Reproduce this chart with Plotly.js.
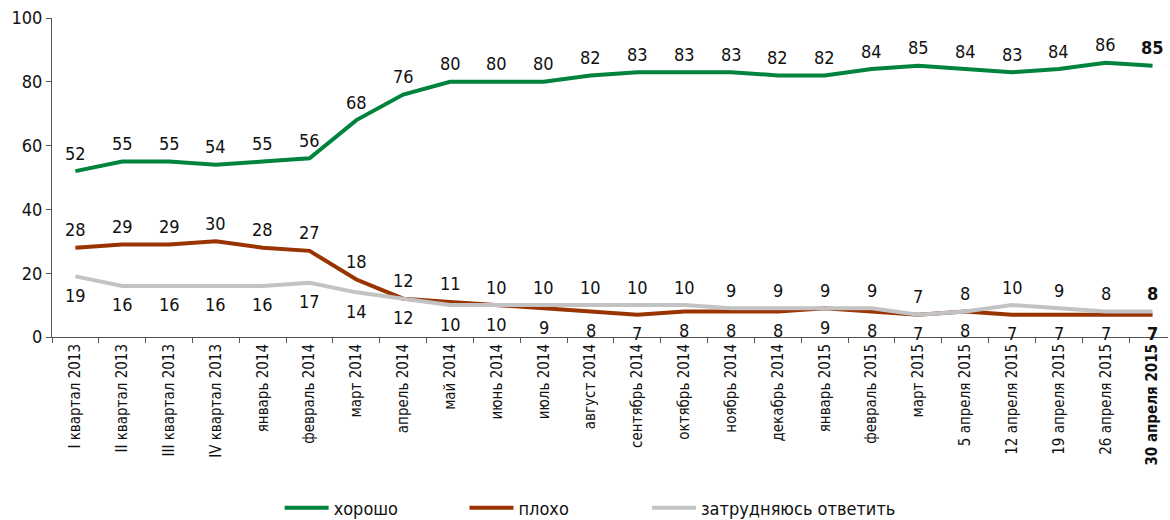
<!DOCTYPE html>
<html><head><meta charset="utf-8">
<script src="https://cdn.plot.ly/plotly-3.0.1.min.js"></script>
<style>html,body{margin:0;padding:0;background:#fff}#chart{width:1170px;height:520px}</style>
</head><body><div id="chart"></div>
<script>
const categories = ["I квартал 2013","II квартал 2013","III квартал 2013","IV квартал 2013","январь 2014","февраль 2014","март 2014","апрель 2014","май 2014","июнь 2014","июль 2014","август 2014","сентябрь 2014","октябрь 2014","ноябрь 2014","декабрь 2014","январь 2015","февраль 2015","март 2015","5 апреля 2015","12 апреля 2015","19 апреля 2015","26 апреля 2015","30 апреля 2015"];
const good = [52,55,55,54,55,56,68,76,80,80,80,82,83,83,83,82,82,84,85,84,83,84,86,85];
const bad = [28,29,29,30,28,27,18,12,11,10,9,8,7,8,8,8,9,8,7,8,7,7,7,7];
const hard = [19,16,16,16,16,17,14,12,10,10,10,10,10,10,9,9,9,9,7,8,10,9,8,8];
const seriesNames = ["хорошо","плохо","затрудняюсь ответить"];
const yTicks = [0,20,40,60,80,100];

const FONT = "'DejaVu Sans Condensed','Liberation Sans Narrow',sans-serif";
const last = categories.length - 1;
const fmt = (v,i) => i === last ? '<b>'+v+'</b>' : String(v);
const tickText = categories.map((c,i) => i === last ? '<b>'+c+'</b>' : c);
const badTop = bad.map((v,i) => v > hard[i] || (v === hard[i] && i <= 16));

const annotations = [];
function addLabels(arr, upFn) {
  arr.forEach((v,i) => {
    const up = upFn(i);
    annotations.push({x:categories[i], y:v, xref:'x', yref:'y', text:fmt(v,i), showarrow:false,
      yshift: up ? 18 : -19, xanchor:'center', yanchor:'middle',
      font:{family:FONT, size:18, color:'#111'}});
  });
}
addLabels(good, () => true);
addLabels(bad, i => badTop[i]);
addLabels(hard, i => !badTop[i]);

const common = {type:'scatter', mode:'lines', x:categories, hoverinfo:'x+y'};
const traces = [
  Object.assign({}, common, {name:seriesNames[0], y:good, line:{color:'#00843d', width:4}, legend:'legend'}),
  Object.assign({}, common, {name:seriesNames[1], y:bad, line:{color:'#993300', width:4}, legend:'legend2'}),
  Object.assign({}, common, {name:seriesNames[2], y:hard, line:{color:'#c3c3c3', width:4}, legend:'legend3'})
];

const legBase = {orientation:'h', xref:'container', yref:'container', y:0.023, yanchor:'middle',
  xanchor:'left', font:{family:FONT, size:18, color:'#111'}, itemwidth:44, bgcolor:'rgba(0,0,0,0)'};
const layout = {
  width:1170, height:520,
  margin:{l:52, r:2, t:18, b:183, autoexpand:false},
  paper_bgcolor:'#fff', plot_bgcolor:'#fff',
  showlegend:true,
  annotations: annotations,
  legend: Object.assign({}, legBase, {x:0.239}),
  legend2: Object.assign({}, legBase, {x:0.397}),
  legend3: Object.assign({}, legBase, {x:0.553}),
  xaxis:{type:'category', range:[-0.5, 23.33], tickvals:categories, ticktext:tickText,
    tickson:'boundaries', ticks:'outside', ticklen:5, tickcolor:'#555', showline:true,
    linecolor:'#555', linewidth:1, showgrid:false, zeroline:false, tickangle:-90,
    automargin:false, tickfont:{family:FONT, size:15, color:'#111'}},
  yaxis:{range:[0,100], tickvals:yTicks, ticks:'outside', ticklen:5, tickcolor:'#555',
    showline:true, linecolor:'#555', linewidth:1, showgrid:false, zeroline:false,
    automargin:false, tickfont:{family:FONT, size:18, color:'#111'}}
};
Plotly.newPlot('chart', traces, layout, {displayModeBar:false, staticPlot:true});
</script></body></html>
